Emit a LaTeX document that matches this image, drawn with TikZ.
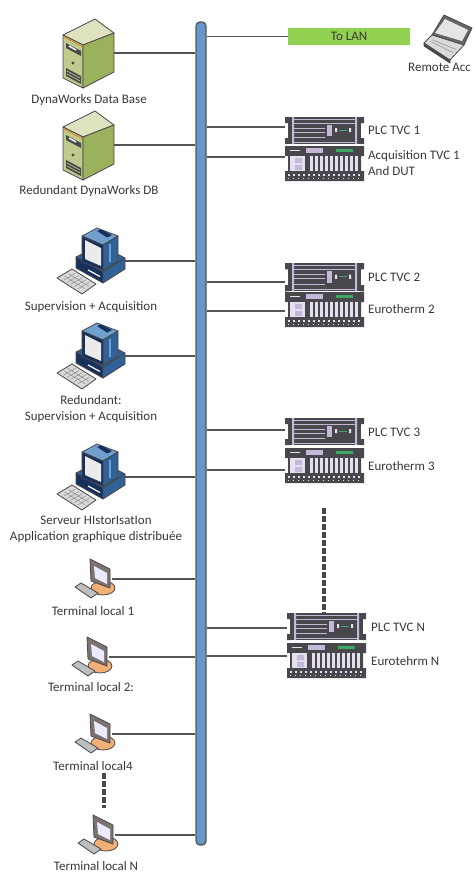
\documentclass[tikz,border=0pt]{standalone}
\usepackage{fontspec}
\setmainfont{Carlito}
\definecolor{linegrey}{RGB}{85,85,85}
\definecolor{labelgrey}{RGB}{55,55,55}
\definecolor{busblue}{RGB}{101,151,203}
\definecolor{langreen}{RGB}{146,208,80}
\definecolor{towertop}{RGB}{222,226,190}
\definecolor{towerfront}{RGB}{190,203,140}
\definecolor{towerside}{RGB}{155,178,92}
\definecolor{pcblue}{RGB}{48,98,152}
\definecolor{pclight}{RGB}{112,160,205}
\definecolor{pcdark}{RGB}{24,48,92}
\definecolor{termorange}{RGB}{243,176,118}
\definecolor{termframe}{RGB}{125,115,110}
\definecolor{rackdark}{RGB}{72,72,76}
\definecolor{racklav}{RGB}{196,184,216}
\definecolor{rackpale}{RGB}{228,224,238}
\definecolor{rackgreen}{RGB}{60,170,100}
\tikzset{
    link/.style={draw=linegrey, line width=1.2pt},
    dotted line/.style={draw=rackdark, line width=4pt, dash pattern=on 5.5pt off 2.5pt},
    tag/.style={font=\fontsize{13}{16}\selectfont, text=labelgrey, inner sep=0pt, align=center},
    lefttag/.style={tag, anchor=west, align=left},
    icon/.style={draw=rackdark, line width=0.8pt, line join=round},
    pics/tower/.style={code={
        \draw [icon, fill=towertop] (32,1) -- (51,15) -- (20,27) -- (0,17) -- cycle;
        \draw [icon, fill=towerfront] (0,17) -- (20,27) -- (20,70) -- (0,60) -- cycle;
        \draw [icon, fill=towerside] (20,27) -- (51,15) -- (51,54) -- (20,70) -- cycle;
        \draw [draw=orange!70!brown, line width=0.8pt] (1,19) -- (19,28.5);
        \fill [rackdark] (3,25) -- (18,33) -- (18,38) -- (3,30) -- cycle;
        \draw [white, line width=1.4pt] (6,28) -- (13,32);
        \fill [rackdark] (10,45) circle (1.7);
        \fill [rackdark] (3,50) -- (18,58) -- (18,66) -- (3,58) -- cycle;
        \draw [towerfront, line width=0.7pt] (4,53) -- (17,60) (4,56) -- (17,63);
        \coordinate (-port) at (51,35);
    }},
    pics/pc/.style={code={
        \draw [icon, fill=pcblue] (19,29) -- (43,17) -- (68,30) -- (46,44) -- cycle;
        \draw [icon, fill=pcdark] (19,29) -- (46,44) -- (46,55) -- (19,40) -- cycle;
        \draw [icon, fill=pcblue] (46,44) -- (68,30) -- (68,41) -- (46,55) -- cycle;
        \draw [white, line width=1.2pt] (31,42) -- (43,48.5);
        \draw [icon, fill=pclight] (25,8) -- (40,0) -- (61,8) -- (46,17) -- cycle;
        \fill [pcdark] (40,3) -- (44,1.5) -- (55,7) -- (50,9.5) -- cycle;
        \draw [icon, fill=pcblue] (46,17) -- (61,8) -- (61,33) -- (46,42) -- cycle;
        \draw [pclight, line width=1.5pt] (53,16) -- (53,34);
        \draw [icon, fill=pcdark] (25,8) -- (46,17) -- (46,42) -- (25,34) -- cycle;
        \fill [black!8] (28,12) -- (44,20) -- (44,38) -- (28,31) -- cycle;
        \draw [icon, fill=black!15] (0,50) -- (15,41) -- (39,56) -- (25,66) -- cycle;
        \foreach \s in {0.33,0.66} {
            \draw [rackdark!70, line width=0.4pt] ({3+12*\s},{50-7*\s}) -- ({24+12*\s},{63-7*\s});
        }
        \foreach \s in {0.17,0.34,0.5,0.67,0.84} {
            \draw [rackdark!70, line width=0.4pt] ({3+21*\s},{50+13*\s}) -- ({15+21*\s},{43+13*\s});
        }
        \coordinate (-port) at (68,33);
    }},
    pics/terminal/.style={code={
        \draw [icon, fill=termorange] (31,30) ellipse (12 and 7);
        \draw [icon, fill=termframe] (18,1) -- (38,11) -- (38,30) -- (19,23) -- cycle;
        \fill [blue!8] (22,8) -- (35,15) -- (35,26) -- (23,20) -- cycle;
        \draw [icon, fill=black!25] (3,29) -- (9,25) -- (26,35) -- (19,40) -- cycle;
        \coordinate (-port) at (40,21);
    }},
    pics/laptop/.style={code={
        \draw [icon, fill=rackdark] (0,28) -- (26,45) -- (26,48) -- (0,31) -- cycle;
        \draw [icon, fill=black!60] (20,0) -- (48,13) -- (40,30) -- (8,20) -- cycle;
        \fill [black!10] (21,4) -- (44,15) -- (38,26) -- (11,18) -- cycle;
        \draw [icon, fill=black!15] (0,28) -- (8,20) -- (40,30) -- (26,45) -- cycle;
        \foreach \s in {0.33,0.66} {
            \draw [black!50, line width=0.4pt] ({5+5*\s},{28-5*\s}) -- ({26+9*\s},{41-10*\s});
        }
    }},
    pics/plc/.style={code={
        \fill [rackdark] (0,0) rectangle (4,6) (0,21) rectangle (4,27);
        \fill [rackdark] (75,0) rectangle (79,6) (75,21) rectangle (79,27);
        \fill [rackdark] (3,0) rectangle (76,27);
        \fill [racklav] (7,0) rectangle (9,27) (70,0) rectangle (72,27);
        \draw [racklav, line width=0.8pt] (9,2) -- (70,2) (9,6) -- (70,6) (9,25) -- (70,25);
        \draw [racklav, line width=1pt] (9,11) -- (40,11) (9,15) -- (40,15) (9,20) -- (40,20);
        \fill [racklav] (42,8) rectangle (47,19);
        \fill [rackpale] (50,11) rectangle (52,15) (64,11) rectangle (66,15);
        \draw [rackgreen, line width=1pt] (54,13) -- (62,13);
        \coordinate (-port) at (0,#1);
    }},
    pics/rack/.style={code={
        \fill [rackdark] (0,0) rectangle (79,10) (3,10) rectangle (76,25) (0,25) rectangle (79,35);
        \fill [racklav] (21,1.5) rectangle (38,7);
        \fill [rackgreen] (51,3) rectangle (68,6);
        \draw [rackpale, line width=0.8pt] (5,4) -- (15,4);
        \fill [rackpale] (5,10) rectangle (20,25);
        \fill [racklav] (10,12) rectangle (17,17) (10,19) rectangle (17,24);
        \foreach \x in {25,30,...,70} {
            \fill [rackpale] (\x,10) rectangle +(3,15);
        }
        \foreach \x in {3,8,...,73} {
            \fill [rackpale] (\x,28) rectangle +(2,2);
            \fill [rackpale] (\x,32) rectangle +(1,1);
        }
        \coordinate (-port) at (0,#1);
    }}
}
\begin{document}
\begin{tikzpicture}[x=1pt,y=-1pt]
    \useasboundingbox (0,0) rectangle (474,873);
    \node (bus) [draw=linegrey, line width=1.3pt, fill=busblue, rounded corners=4pt, minimum width=10pt, minimum height=823pt, inner sep=0pt] at (201,433.5) {};

    % left column
    \pic (dbA) at (63,18) {tower};
    \pic (dbB) at (63,110) {tower};
    \pic (supA) at (57,228) {pc};
    \pic (supB) at (57,323) {pc};
    \pic (hist) at (57,444) {pc};
    \pic (termA) at (72,558) {terminal};
    \pic (termB) at (69,636) {terminal};
    \pic (termC) at (72,713) {terminal};
    \pic (termN) at (75,814) {terminal};
    \node (dbAtag) [tag] at (89,100) {DynaWorks Data Base};
    \node (dbBtag) [tag] at (89,191) {Redundant DynaWorks DB};
    \node (supAtag) [tag] at (91,307) {Supervision + Acquisition};
    \node (supBtag) [tag] at (91,409) {Redundant:\\Supervision + Acquisition};
    \node (histtag) [tag] at (96,529) {Serveur HIstorIsatIon\\Application graphique distribuée};
    \node (termAtag) [tag] at (93,611) {Terminal local 1};
    \node (termBtag) [tag] at (91,687) {Terminal local 2:};
    \node (termCtag) [tag] at (93,766) {Terminal local4};
    \node (termNtag) [tag] at (96,866) {Terminal local N};
    \coordinate (termdotsA) at (104,773);
    \coordinate (termdotsB) at (104,808);
    \draw [dotted line] (termdotsA) -- (termdotsB);
    \draw [link] (dbA-port) -- (dbA-port -| bus.west);
    \draw [link] (dbB-port) -- (dbB-port -| bus.west);
    \draw [link] (supA-port) -- (supA-port -| bus.west);
    \draw [link] (supB-port) -- (supB-port -| bus.west);
    \draw [link] (hist-port) -- (hist-port -| bus.west);
    \draw [link] (termA-port) -- (termA-port -| bus.west);
    \draw [link] (termB-port) -- (termB-port -| bus.west);
    \draw [link] (termC-port) -- (termC-port -| bus.west);
    \draw [link] (termN-port) -- (termN-port -| bus.west);

    % right column
    \node (lan) [fill=langreen, minimum width=122pt, minimum height=17pt, inner sep=0pt, font=\fontsize{13}{15}\selectfont, text=labelgrey] at (349,36.5) {To LAN};
    \draw [link] (lan.west) -- (lan.west -| bus.east);
    \pic (remote) at (424,15) {laptop};
    \node (remotetag) [lefttag] at (408,67) {Remote Acc};
    \pic (plcA) at (285,117) {plc=10};
    \pic (rackA) at (285,146) {rack=11};
    \pic [yscale=1.05] (plcB) at (285,263) {plc=18};
    \pic (rackB) at (285,292) {rack=19};
    \pic (plcC) at (285,418) {plc=12};
    \pic (rackC) at (285,448) {rack=22};
    \pic (plcN) at (287,613) {plc=15};
    \pic (rackN) at (287,643) {rack=13};
    \node (plcAtag) [lefttag] at (368,130) {PLC TVC 1};
    \node (rackAtag) [lefttag] at (368,163) {Acquisition TVC 1\\And DUT};
    \node (plcBtag) [lefttag] at (368,277) {PLC TVC 2};
    \node (rackBtag) [lefttag] at (368,309) {Eurotherm 2};
    \node (plcCtag) [lefttag] at (368,432) {PLC TVC 3};
    \node (rackCtag) [lefttag] at (368,466) {Eurotherm 3};
    \node (plcNtag) [lefttag] at (371,627) {PLC TVC N};
    \node (rackNtag) [lefttag] at (371,661) {Eurotehrm N};
    \coordinate (rackdots) at (324,508);
    \coordinate (plcNtop) at (324,613);
    \draw [dotted line] (rackdots) -- (plcNtop);
    \draw [link] (plcA-port) -- (plcA-port -| bus.east);
    \draw [link] (rackA-port) -- (rackA-port -| bus.east);
    \draw [link] (plcB-port) -- (plcB-port -| bus.east);
    \draw [link] (rackB-port) -- (rackB-port -| bus.east);
    \draw [link] (plcC-port) -- (plcC-port -| bus.east);
    \draw [link] (rackC-port) -- (rackC-port -| bus.east);
    \draw [link] (plcN-port) -- (plcN-port -| bus.east);
    \draw [link] (rackN-port) -- (rackN-port -| bus.east);
\end{tikzpicture}
\end{document}
